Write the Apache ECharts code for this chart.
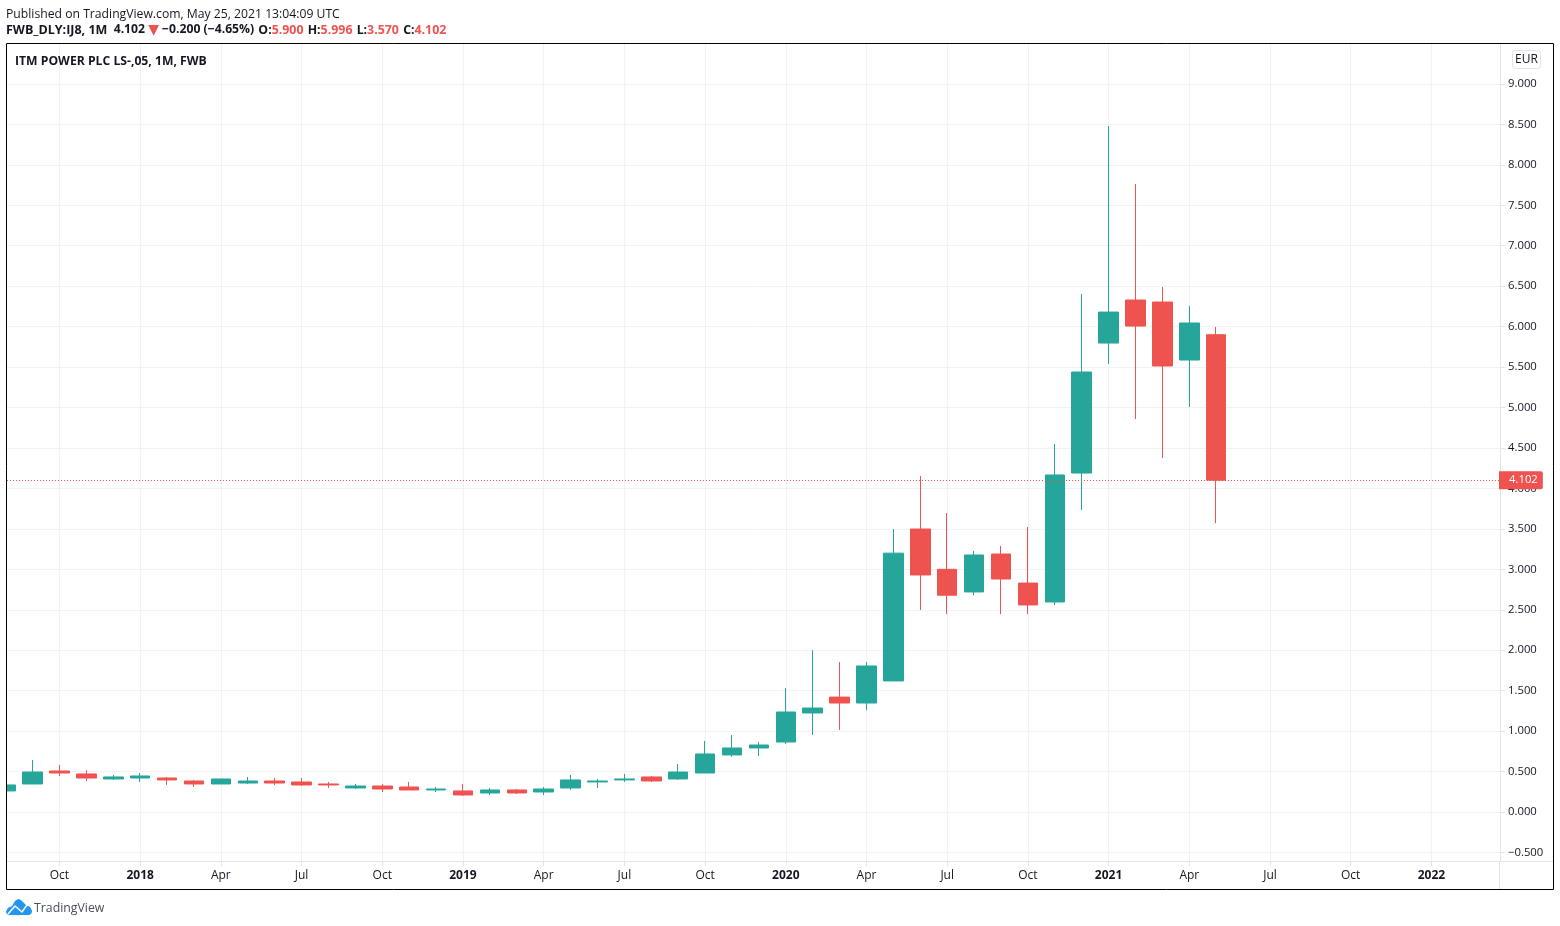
<!DOCTYPE html>
<html>
<head>
<meta charset="utf-8">
<title>ITM POWER PLC LS-,05, 1M, FWB</title>
<script src="https://cdn.jsdelivr.net/npm/echarts@6/dist/echarts.min.js"></script>
<style>
  html, body { margin: 0; padding: 0; background: #fff; }
  #chart { width: 1560px; height: 926px; }
</style>
</head>
<body>
<div id="chart"></div>
<script>
// monthly candles, Aug 2017 - May 2021
var months = [
  '2017-08', '2017-09', '2017-10', '2017-11', '2017-12',
  '2018-01', '2018-02', '2018-03', '2018-04', '2018-05', '2018-06', '2018-07', '2018-08', '2018-09', '2018-10', '2018-11', '2018-12',
  '2019-01', '2019-02', '2019-03', '2019-04', '2019-05', '2019-06', '2019-07', '2019-08', '2019-09', '2019-10', '2019-11', '2019-12',
  '2020-01', '2020-02', '2020-03', '2020-04', '2020-05', '2020-06', '2020-07', '2020-08', '2020-09', '2020-10', '2020-11', '2020-12',
  '2021-01', '2021-02', '2021-03', '2021-04', '2021-05'
]
var opens = [
  0.26, 0.346, 0.507, 0.47, 0.408,
  0.42, 0.42, 0.383, 0.346, 0.358, 0.383, 0.371, 0.346, 0.297, 0.321, 0.309, 0.272,
  0.26, 0.235, 0.272, 0.247, 0.297, 0.371, 0.396, 0.433, 0.408, 0.482, 0.705, 0.791,
  0.865, 1.224, 1.42, 1.347, 1.62, 3.498, 3.0, 2.72, 3.189, 2.83, 2.596, 4.19,
  5.797, 6.329, 6.304, 5.587, 5.9
]
var closes = [
  0.334, 0.494, 0.482, 0.42, 0.433,
  0.445, 0.396, 0.346, 0.408, 0.383, 0.358, 0.334, 0.334, 0.321, 0.284, 0.272, 0.284,
  0.21, 0.272, 0.235, 0.284, 0.396, 0.383, 0.408, 0.383, 0.494, 0.717, 0.791, 0.828,
  1.236, 1.285, 1.347, 1.805, 3.2, 2.93, 2.68, 3.177, 2.88, 2.559, 4.166, 5.439,
  6.18, 6.007, 5.513, 6.045, 4.102
]
var lows = [
  0.26, 0.346, 0.445, 0.383, 0.396,
  0.371, 0.334, 0.309, 0.346, 0.346, 0.334, 0.321, 0.297, 0.284, 0.247, 0.272, 0.247,
  0.198, 0.21, 0.222, 0.21, 0.272, 0.297, 0.371, 0.371, 0.396, 0.482, 0.68, 0.692,
  0.84, 0.952, 1.014, 1.26, 1.62, 2.497, 2.447, 2.68, 2.447, 2.447, 2.559, 3.733,
  5.538, 4.858, 4.376, 5.006, 3.57
]
var highs = [
  0.334, 0.643, 0.581, 0.519, 0.457,
  0.482, 0.433, 0.396, 0.408, 0.433, 0.42, 0.42, 0.371, 0.346, 0.346, 0.371, 0.309,
  0.346, 0.297, 0.284, 0.309, 0.457, 0.408, 0.47, 0.445, 0.593, 0.878, 0.952, 0.865,
  1.533, 2.0, 1.854, 1.854, 3.498, 4.153, 3.696, 3.226, 3.288, 3.523, 4.549, 6.403,
  8.48, 7.763, 6.49, 6.255, 5.996
]
var lastPrice = 4.102

// x ticks are month indexes counted from Aug 2017
var xTicks = [2, 5, 8, 11, 14, 17, 20, 23, 26, 29, 32, 35, 38, 41, 44, 47, 50, 53]
var xTickLabels = ['Oct', '2018', 'Apr', 'Jul', 'Oct', '2019', 'Apr', 'Jul', 'Oct', '2020', 'Apr', 'Jul', 'Oct', '2021', 'Apr', 'Jul', 'Oct', '2022']
var yTicks = [-0.5, 0, 0.5, 1, 1.5, 2, 2.5, 3, 3.5, 4, 4.5, 5, 5.5, 6, 6.5, 7, 7.5, 8, 8.5, 9]

var UP = '#26a69a'
var DOWN = '#ef5350'
var TEXT = '#131722'
var GRID = '#f1f2f3'
var AXIS = '#e2e3e5'
var FONT = '"Open Sans", "Noto Sans", sans-serif'

var candles = months.map(function (m, i) {
  return [i, opens[i], closes[i], lows[i], highs[i]]
})

var chart = echarts.init(document.getElementById('chart'), null, { renderer: 'canvas' })

var option = {
  animation: false,
  backgroundColor: '#fff',
  textStyle: { fontFamily: FONT },
  grid: { left: 7, right: 60, top: 44, bottom: 65, containLabel: false },
  xAxis: {
    type: 'value',
    min: 0.05,
    max: 55.55,
    axisLine: { onZero: false, lineStyle: { color: AXIS } },
    axisTick: { customValues: xTicks, length: 5, lineStyle: { color: AXIS } },
    splitLine: { show: true, lineStyle: { color: GRID } },
    axisLabel: {
      customValues: xTicks,
      margin: 9,
      fontSize: 12,
      color: TEXT,
      formatter: function (v) {
        var s = xTickLabels[xTicks.indexOf(v)]
        return /^\d/.test(s) ? '{year|' + s + '}' : s
      },
      rich: { year: { fontWeight: 'bold', fontSize: 12, color: TEXT, fontFamily: FONT } }
    }
  },
  yAxis: {
    type: 'value',
    position: 'right',
    min: -0.606,
    max: 9.494,
    axisLine: { show: true, onZero: false, lineStyle: { color: AXIS } },
    axisTick: { show: true, customValues: yTicks, length: 5, lineStyle: { color: AXIS } },
    splitLine: { show: true, lineStyle: { color: GRID } },
    axisLabel: {
      customValues: yTicks,
      margin: 8,
      fontSize: 11.3,
      padding: [2, 0, 0, 0],
      color: TEXT,
      formatter: function (v) { return v.toFixed(3).replace('-', '\u2212') }
    }
  },
  series: [{
    type: 'candlestick',
    barWidth: 20,
    data: candles,
    itemStyle: { color: UP, color0: DOWN, borderColor: UP, borderColor0: DOWN, borderWidth: 1, borderJoin: 'miter' },
    markLine: {
      silent: true,
      symbol: 'none',
      animation: false,
      precision: 3,
      lineStyle: { color: DOWN, type: [1, 2], width: 1, opacity: 1 },
      label: {
        position: 'end',
        distance: -1,
        formatter: lastPrice.toFixed(3),
        fontSize: 11.3,
        fontFamily: FONT,
        color: '#fff',
        backgroundColor: DOWN,
        borderRadius: [0, 2, 2, 0],
        padding: [4, 5, 3, 10]
      },
      data: [{ yAxis: lastPrice, lineStyle: { color: DOWN } }]
    }
  }],
  title: [
    {
      text: 'Published on TradingView.com, May 25, 2021 13:04:09 UTC',
      left: 6, top: 9, padding: 0,
      textStyle: { fontSize: 12.2, fontWeight: 'normal', color: TEXT, fontFamily: FONT }
    },
    {
      text: '{b|FWB_DLY:IJ8, 1M}  {n|4.102} {t|\u25BC} {n|\u22120.200 (\u22124.65%)} {k|O:}{r|5.900} {k|H:}{r|5.996} {k|L:}{r|3.570} {k|C:}{r|4.102}',
      left: 6, top: 23, padding: 0,
      textStyle: {
        fontSize: 12.2,
        rich: {
          b: { fontSize: 12.5, fontWeight: 'bold', color: TEXT, fontFamily: FONT },
          k: { fontSize: 12.3, fontWeight: 'bold', color: TEXT, fontFamily: FONT, padding: [0, 0, 0, 1] },
          n: { fontSize: 12.2, color: TEXT, fontFamily: FONT },
          r: { fontSize: 12.4, color: DOWN, fontFamily: FONT },
          t: { fontSize: 14, color: DOWN, fontFamily: '"DejaVu Sans", sans-serif' }
        }
      }
    },
    {
      text: 'ITM POWER PLC LS-,05, 1M, FWB',
      left: 15, top: 56, padding: 0,
      textStyle: { fontSize: 12.2, fontWeight: 'bold', color: TEXT, fontFamily: FONT }
    },
    {
      text: 'TradingView',
      left: 34, top: 902, padding: 0,
      textStyle: { fontSize: 12.3, fontWeight: 'normal', color: '#4a4e5a', fontFamily: FONT }
    },
    {
      text: 'EUR',
      left: 1512, top: 50,
      padding: [4, 3, 3, 3],
      borderColor: AXIS,
      borderWidth: 1,
      borderRadius: 3,
      textStyle: { fontSize: 12, fontWeight: 'normal', color: TEXT, fontFamily: FONT }
    }
  ],
  graphic: [
    // the first candle is only partly inside the pane, hide what sticks out on the left
    { type: 'rect', z: 95, silent: true, shape: { x: 0, y: 44, width: 7, height: 845 }, style: { fill: '#fff' } },
    // frame around the pane
    { type: 'rect', z: 100, silent: true, shape: { x: 6.5, y: 43.5, width: 1547, height: 846 }, style: { fill: 'none', stroke: '#000', lineWidth: 1 } },
    // axes carry on through the scale areas
    { type: 'line', z: 90, silent: true, shape: { x1: 1499.5, y1: 861, x2: 1499.5, y2: 889 }, style: { stroke: AXIS, lineWidth: 1 } },
    { type: 'line', z: 90, silent: true, shape: { x1: 1500, y1: 861.5, x2: 1553, y2: 861.5 }, style: { stroke: AXIS, lineWidth: 1 } },
    // TradingView logo
    {
      type: 'polygon', z: 90, silent: true,
      shape: {
        points: [[6, 912], [8, 908], [12, 906], [15, 901], [19, 899], [23, 902], [26, 905], [30, 907], [32, 911], [31, 914], [28, 915], [9, 915], [7, 914]],
        smooth: 0.2
      },
      style: { fill: '#2196f3' }
    },
    { type: 'polyline', z: 91, silent: true, shape: { points: [[8, 914], [15, 906], [22, 912], [27, 905]] }, style: { stroke: '#fff', fill: 'none', lineWidth: 1.5 } }
  ]
}

chart.setOption(option)
</script>
</body>
</html>
